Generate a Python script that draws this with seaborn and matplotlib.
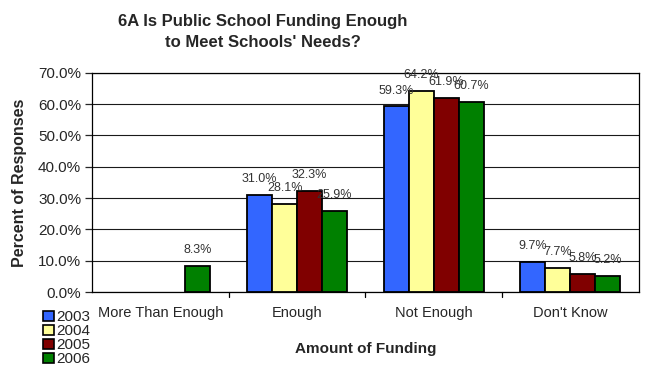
import numpy as np
import pandas as pd
import matplotlib
matplotlib.use("Agg")
import matplotlib.pyplot as plt
import seaborn as sns
from matplotlib.patches import Patch
from matplotlib.ticker import FuncFormatter, MultipleLocator

# Survey responses (percent) by funding category and year
categories = ["More Than Enough", "Enough", "Not Enough", "Don't Know"]
years = ["2003", "2004", "2005", "2006"]
pct_2003 = [np.nan, 31.0, 59.3, 9.7]
pct_2004 = [np.nan, 28.1, 64.2, 7.7]
pct_2005 = [np.nan, 32.3, 61.9, 5.8]
pct_2006 = [8.3, 25.9, 60.7, 5.2]

colors = ["#3366FF", "#FFFF99", "#800000", "#008000"]

rows = []
for yr, vals in zip(years, [pct_2003, pct_2004, pct_2005, pct_2006]):
    for cat, v in zip(categories, vals):
        rows.append({"category": cat, "year": yr, "pct": v})
df = pd.DataFrame(rows)

sns.set_style("white")
plt.rcParams["font.family"] = ["Liberation Sans", "DejaVu Sans"]

fig = plt.figure(figsize=(6.45, 3.66), dpi=100)
ax = fig.add_axes([0.143, 0.202, 0.847, 0.599])

sns.barplot(data=df, x="category", y="pct", hue="year", order=categories,
            hue_order=years, palette=colors, saturation=1, width=0.73,
            edgecolor="black", linewidth=1.3, ax=ax, legend=False, zorder=3)

ax.set_ylim(0, 70)
ax.yaxis.set_major_locator(MultipleLocator(10))
ax.yaxis.set_major_formatter(FuncFormatter(lambda v, p: f"{v:.1f}%"))
ax.set_xlim(-0.5, 3.5)
ax.grid(axis="y", color="#1a1a1a", linewidth=0.8, zorder=0)
for s in ax.spines.values():
    s.set_visible(True)
    s.set_color("black")
    s.set_linewidth(0.9)

# group divider ticks on the x axis
ax.set_xticks(np.arange(len(categories)))
ax.set_xticklabels(categories, fontsize=10.5)
ax.tick_params(axis="x", length=0, pad=10)
for xb in np.arange(0.5, 3.5, 1.0):
    ax.plot([xb, xb], [0, -1.5], color="black", lw=0.9, clip_on=False)
ax.tick_params(axis="y", left=True, length=5, width=0.9, labelsize=11, pad=3)

for cont in ax.containers:
    labels = ["" if np.isnan(b.get_height()) else f"{b.get_height():.1f}%"
              for b in cont]
    ax.bar_label(cont, labels=labels, fontsize=9, padding=7, color="#333333")

ax.set_xlabel("Amount of Funding", fontsize=11, fontweight="bold", labelpad=16)
ax.set_ylabel("Percent of Responses", fontsize=11.5, fontweight="bold", labelpad=8)

fig.suptitle("6A Is Public School Funding Enough\nto Meet Schools' Needs?",
             fontsize=12, fontweight="bold", y=0.962, x=0.407, linespacing=1.5)

handles = [Patch(facecolor=c, edgecolor="black", linewidth=1.2) for c in colors]
fig.legend(handles, years, loc="lower left", bbox_to_anchor=(0.05, -0.03),
           frameon=False, fontsize=11, handlelength=0.7, handleheight=0.7,
           handletextpad=0.15, labelspacing=0.0, borderpad=0.2)

fig.savefig("out.png", dpi=100)
